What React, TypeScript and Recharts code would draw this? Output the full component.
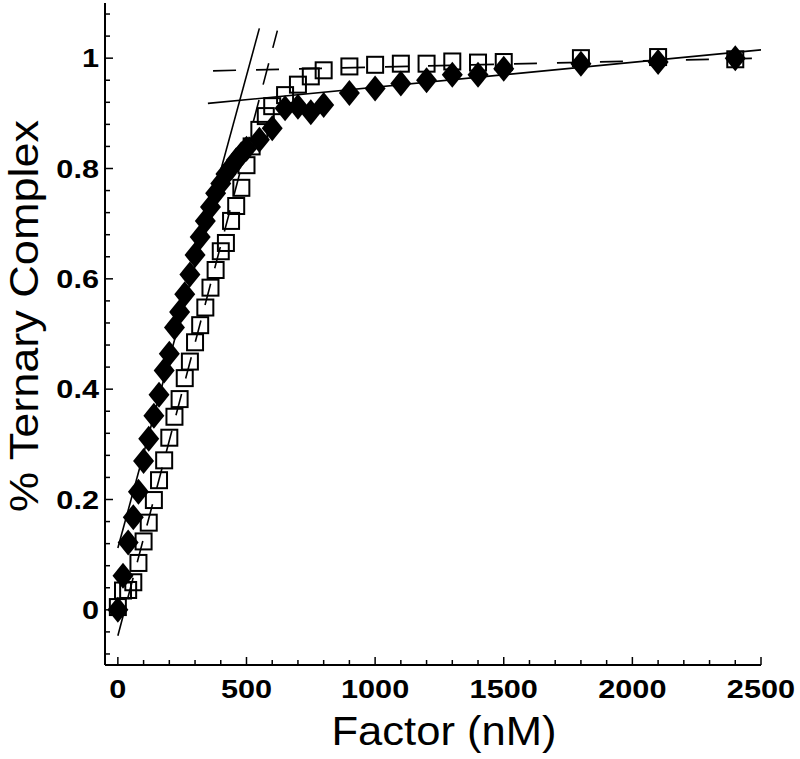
import React from "react";
import { ComposedChart, XAxis, YAxis, Scatter, Line, Label } from "recharts";

// filled diamonds
const diamondNM = [0, 20, 40, 60, 80, 100, 120, 140, 160, 180, 200, 220, 240, 260, 280, 300, 320, 340, 360, 380, 400, 420, 440, 460, 480, 500, 550, 600, 650, 700, 750, 800, 900, 1000, 1100, 1200, 1300, 1400, 1500, 1800, 2100, 2400];
const diamondFrac = [0, 0.062, 0.122, 0.168, 0.214, 0.27, 0.31, 0.352, 0.39, 0.434, 0.464, 0.512, 0.54, 0.572, 0.608, 0.643, 0.676, 0.705, 0.73, 0.755, 0.773, 0.79, 0.802, 0.815, 0.826, 0.836, 0.852, 0.873, 0.909, 0.912, 0.902, 0.915, 0.937, 0.945, 0.954, 0.96, 0.97, 0.97, 0.981, 0.99, 0.993, 1.0];

// open squares
const squareNM = [0, 20, 40, 60, 80, 100, 120, 140, 160, 180, 200, 220, 240, 260, 280, 300, 320, 340, 360, 380, 400, 420, 440, 460, 480, 500, 520, 550, 575, 600, 650, 700, 750, 800, 900, 1000, 1100, 1200, 1300, 1400, 1500, 1800, 2100, 2400];
const squareFrac = [0.005, 0.035, 0.036, 0.05, 0.085, 0.124, 0.158, 0.199, 0.235, 0.271, 0.312, 0.35, 0.382, 0.42, 0.45, 0.485, 0.516, 0.548, 0.584, 0.616, 0.65, 0.665, 0.705, 0.732, 0.765, 0.806, 0.84, 0.87, 0.895, 0.913, 0.933, 0.952, 0.967, 0.978, 0.985, 0.988, 0.99, 0.99, 0.994, 0.992, 0.993, 1.0, 1.002, 0.998];

// straight fit lines (end points)
const diamondSlopeNM = [0, 550];
const diamondSlopeFrac = [0.112, 1.054];
const diamondPlateauNM = [350, 2500];
const diamondPlateauFrac = [0.918, 1.015];
const squareSlopeNM = [0, 620];
const squareSlopeFrac = [-0.047, 1.05];
const squarePlateauNM = [370, 2500];
const squarePlateauFrac = [0.977, 1.0];

const xTicks = [0, 100, 200, 300, 400, 500, 600, 700, 800, 900, 1000, 1100, 1200, 1300, 1400, 1500, 1600, 1700, 1800, 1900, 2000, 2100, 2200, 2300, 2400, 2500];
const yTicks = [-0.08, -0.04, 0, 0.04, 0.08, 0.12, 0.16, 0.2, 0.24, 0.28, 0.32, 0.36, 0.4, 0.44, 0.48, 0.52, 0.56, 0.6, 0.64, 0.68, 0.72, 0.76, 0.8, 0.84, 0.88, 0.92, 0.96, 1, 1.04, 1.08];

const zip = (xs: number[], ys: number[]) => xs.map((x, i) => ({ x, y: ys[i] }));

const diamonds = zip(diamondNM, diamondFrac);
const squares = zip(squareNM, squareFrac);
const diamondSlope = zip(diamondSlopeNM, diamondSlopeFrac);
const diamondPlateau = zip(diamondPlateauNM, diamondPlateauFrac);
const squareSlope = zip(squareSlopeNM, squareSlopeFrac);
const squarePlateau = zip(squarePlateauNM, squarePlateauFrac);

const FONT = "'Liberation Sans', Arial, Helvetica, sans-serif";
const TICK_FS = 26;
const STRETCH = 1.18;

const isMajorX = (v: number) => v % 500 === 0;
const isMajorY = (v: number) => Math.abs(v / 0.2 - Math.round(v / 0.2)) < 1e-6;

// Arial bold widths, stretched like the scanned figure
const labelWidth = (s: string) =>
  s.split("").reduce((w, c) => w + (c === "." ? 0.278 : 0.556), 0) * TICK_FS * STRETCH;

const fmtY = (v: number) => (Math.abs(v) < 1e-9 ? "0" : String(Math.round(v * 10) / 10));

const TickText = ({ x, y, s, anchor }: any) => (
  <text
    x={x}
    y={y}
    textAnchor={anchor}
    fontFamily={FONT}
    fontWeight="bold"
    fontSize={TICK_FS}
    fill="#000"
    textLength={labelWidth(s)}
    lengthAdjust="spacingAndGlyphs"
  >
    {s}
  </text>
);

const BottomTick = (props: any) => {
  const { x, y, payload } = props;
  const major = isMajorX(payload.value);
  return (
    <g>
      <line x1={x} x2={x} y1={y} y2={y - (major ? 8 : 5)} stroke="#000" strokeWidth={1.5} />
      {major && <TickText x={x} y={y + 33} s={String(payload.value)} anchor="middle" />}
    </g>
  );
};

const TopTick = (props: any) => {
  const { x, y, payload } = props;
  const major = isMajorX(payload.value);
  return <line x1={x} x2={x} y1={y} y2={y + (major ? 8 : 5)} stroke="#000" strokeWidth={1.5} />;
};

const LeftTick = (props: any) => {
  const { x, y, payload } = props;
  const major = isMajorY(payload.value);
  return (
    <g>
      <line x1={x} x2={x + (major ? 8 : 5)} y1={y} y2={y} stroke="#000" strokeWidth={1.5} />
      {major && <TickText x={x - 6} y={y + 9} s={fmtY(payload.value)} anchor="end" />}
    </g>
  );
};

const RightTick = (props: any) => {
  const { x, y, payload } = props;
  const major = isMajorY(payload.value);
  return <line x1={x} x2={x - (major ? 8 : 5)} y1={y} y2={y} stroke="#000" strokeWidth={1.5} />;
};

const Diamond = (props: any) => {
  const { cx, cy } = props;
  if (cx == null || cy == null) return null;
  const w = 10.5, h = 13;
  return <path d={`M${cx},${cy - h}L${cx + w},${cy}L${cx},${cy + h}L${cx - w},${cy}Z`} fill="#000" />;
};

const Square = (props: any) => {
  const { cx, cy } = props;
  if (cx == null || cy == null) return null;
  return <rect x={cx - 8} y={cy - 8} width={16} height={16} fill="none" stroke="#000" strokeWidth={2} />;
};

const XTitle = ({ viewBox }: any) => (
  <text
    x={viewBox.x + viewBox.width / 2 + 11}
    y={viewBox.y + 80}
    textAnchor="middle"
    fontFamily={FONT}
    fontSize={40}
    fill="#000"
    textLength={225}
    lengthAdjust="spacingAndGlyphs"
  >
    Factor (nM)
  </text>
);

const YTitle = ({ viewBox }: any) => {
  const cx = viewBox.x + 38;
  const cy = viewBox.y + viewBox.height / 2 - 18;
  return (
    <text
      x={cx}
      y={cy}
      transform={`rotate(-90, ${cx}, ${cy})`}
      textAnchor="middle"
      fontFamily={FONT}
      fontSize={40}
      fill="#000"
      textLength={392}
      lengthAdjust="spacingAndGlyphs"
    >
      % Ternary Complex
    </text>
  );
};

export default function App() {
  return (
    <div style={{ position: "absolute", left: 0, top: 0, background: "#fff" }}>
      <ComposedChart width={800} height={759} margin={{ top: 3, right: 39, bottom: 0, left: 0 }}>
        <XAxis
          xAxisId="b"
          type="number"
          dataKey="x"
          domain={[-50, 2500]}
          ticks={xTicks}
          interval={0}
          allowDataOverflow
          height={94}
          tickSize={0}
          tickMargin={0}
          tickLine={false}
          tick={<BottomTick />}
          axisLine={{ stroke: "#000", strokeWidth: 2 }}
        >
          <Label content={<XTitle />} />
        </XAxis>
        <XAxis
          xAxisId="t"
          orientation="top"
          type="number"
          dataKey="x"
          domain={[-50, 2500]}
          ticks={xTicks}
          interval={0}
          allowDataOverflow
          height={0}
          tickSize={0}
          tickMargin={0}
          tickLine={false}
          tick={<TopTick />}
          axisLine={{ stroke: "#000", strokeWidth: 2 }}
        />
        <YAxis
          yAxisId="l"
          type="number"
          domain={[-0.1, 1.1]}
          ticks={yTicks}
          interval={0}
          allowDataOverflow
          width={105}
          tickSize={0}
          tickMargin={0}
          tickLine={false}
          tick={<LeftTick />}
          axisLine={{ stroke: "#000", strokeWidth: 2 }}
        >
          <Label content={<YTitle />} />
        </YAxis>
        <YAxis
          yAxisId="r"
          orientation="right"
          type="number"
          domain={[-0.1, 1.1]}
          ticks={yTicks}
          interval={0}
          allowDataOverflow
          width={0}
          tickSize={0}
          tickMargin={0}
          tickLine={false}
          tick={<RightTick />}
          axisLine={{ stroke: "#000", strokeWidth: 2 }}
        />

        <Scatter xAxisId="b" yAxisId="l" data={squares} dataKey="y" shape={<Square />} isAnimationActive={false} />
        <Line xAxisId="b" yAxisId="l" data={squareSlope} dataKey="y" type="linear" stroke="#000" strokeWidth={1.6} strokeDasharray="22 16" dot={false} activeDot={false} isAnimationActive={false} />
        <Line xAxisId="b" yAxisId="l" data={squarePlateau} dataKey="y" type="linear" stroke="#000" strokeWidth={1.6} strokeDasharray="23 20" dot={false} activeDot={false} isAnimationActive={false} />
        <Line xAxisId="b" yAxisId="l" data={diamondSlope} dataKey="y" type="linear" stroke="#000" strokeWidth={1.6} dot={false} activeDot={false} isAnimationActive={false} />
        <Line xAxisId="b" yAxisId="l" data={diamondPlateau} dataKey="y" type="linear" stroke="#000" strokeWidth={1.6} dot={false} activeDot={false} isAnimationActive={false} />
        <Scatter xAxisId="b" yAxisId="l" data={diamonds} dataKey="y" shape={<Diamond />} isAnimationActive={false} />
      </ComposedChart>
    </div>
  );
}
